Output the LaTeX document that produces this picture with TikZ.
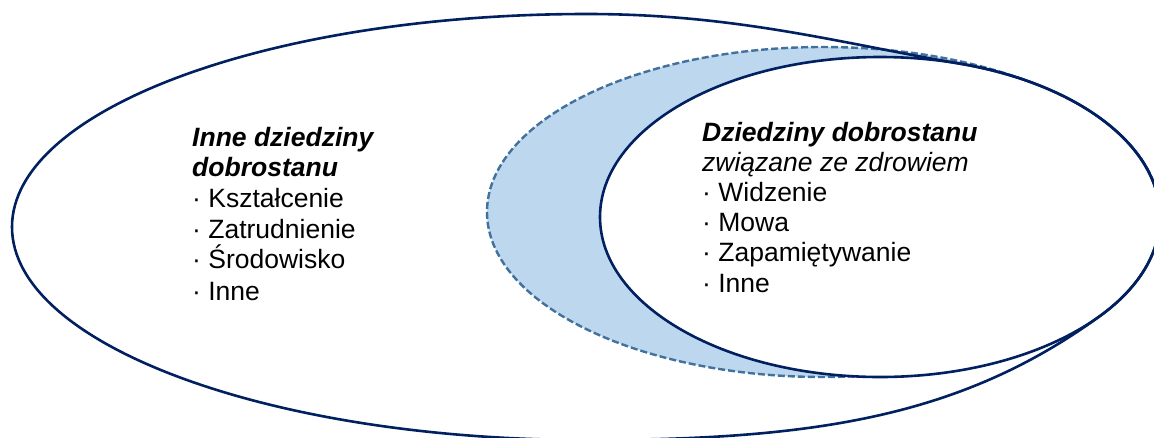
\documentclass[tikz,border=0pt]{standalone}
\usepackage{fontspec}
\setmainfont{Liberation Sans}
\usetikzlibrary{calc}
\definecolor{navy}{HTML}{002060}
\definecolor{steel}{HTML}{41719C}
\definecolor{paleblue}{HTML}{BDD7EE}
\begin{document}
\begin{tikzpicture}[x=1pt,y=-1pt,
  rim/.style={draw=navy, line width=2.6pt},
  halo/.style={draw=steel, line width=2.4pt, dash pattern=on 7pt off 3pt, fill=paleblue},
  txt/.style={anchor=base west, inner sep=0pt, font=\fontsize{26.5}{30.5}\selectfont},
  headtxt/.style={txt, font=\fontsize{26.5}{30.5}\selectfont\bfseries\itshape},
  subtxt/.style={txt, font=\fontsize{26.5}{30.5}\selectfont\itshape},
]
\useasboundingbox[fill=white] (0,0) rectangle (1154,437);

% centre of the health-related domain
\coordinate (ic) at (880,217);

% dashed band around the health-related domain
\path[halo] (823,212) ellipse [x radius=336pt, y radius=165pt];

% health-related domain
\path[rim, fill=white] (ic) ellipse [x radius=280pt, y radius=160pt];

% all well-being domains: left half-ellipse, right cap shared with the inner ellipse
\draw[rim] (587,14) arc[start angle=90, end angle=270, x radius=575pt, y radius=213pt]
  .. controls (817,440) and (962.5,416) .. ($(ic)+(-38.2:280pt and 160pt)$)
  arc[start angle=-38.2, end angle=73.4, x radius=280pt, y radius=160pt]
  .. controls (841.7,43.5) and (737,14) .. (587,14) -- cycle;

% other domains
\node[headtxt] (lh1) at (192,146) {Inne dziedziny};
\node[headtxt] (lh2) at (192,176) {dobrostanu};
\node[txt] (l1) at (192,207) {· Kształcenie};
\node[txt] (l2) at (192,238) {· Zatrudnienie};
\node[txt] (l3) at (192,268) {· Środowisko};
\node[txt] (l4) at (192,300) {· Inne};

% health-related domains
\node[headtxt] (rh1) at (702,141.5) {Dziedziny dobrostanu};
\node[subtxt] (rh2) at (702,171) {związane ze zdrowiem};
\node[txt] (r1) at (702,201.5) {· Widzenie};
\node[txt] (r2) at (702,231) {· Mowa};
\node[txt] (r3) at (702,261) {· Zapamiętywanie};
\node[txt] (r4) at (702,292) {· Inne};
\end{tikzpicture}
\end{document}
